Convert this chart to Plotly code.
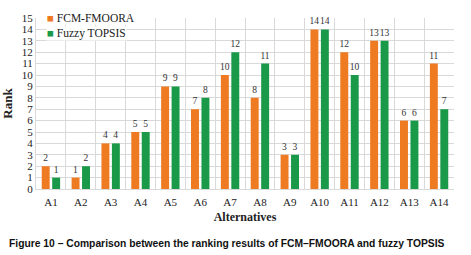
import plotly.graph_objects as go

categories = ["A1", "A2", "A3", "A4", "A5", "A6", "A7", "A8", "A9", "A10", "A11", "A12", "A13", "A14"]
fcm_fmoora = [2, 1, 4, 5, 9, 7, 10, 8, 3, 14, 12, 13, 6, 11]
fuzzy_topsis = [1, 2, 4, 5, 9, 8, 12, 11, 3, 14, 10, 13, 6, 7]
series_names = ["FCM-FMOORA", "Fuzzy TOPSIS"]
y_ticks = list(range(0, 16))

serif = "Liberation Serif, Times New Roman, serif"
orange = "#EE7A22"
green = "#1A9A48"
colors = [orange, green]

fig = go.Figure()
for name, vals, col in zip(series_names, [fcm_fmoora, fuzzy_topsis], colors):
    fig.add_trace(go.Bar(x=categories, y=vals, name=name, showlegend=False,
                         marker=dict(color=col, line=dict(width=0)),
                         text=vals, textposition="outside", constraintext="none",
                         textfont=dict(family=serif, size=9.5, color="#333"),
                         cliponaxis=False))

fig.update_layout(
    width=471, height=255,
    margin=dict(l=36, r=17, t=18, b=66, autoexpand=False),
    paper_bgcolor="white", plot_bgcolor="white",
    barmode="group", bargap=0.3, bargroupgap=0.24,
    showlegend=False,
    xaxis=dict(type="category", tickson="boundaries", showgrid=True,
               gridcolor="#D9D9D9", gridwidth=1, ticks="", ticklen=0,
               ticklabelstandoff=3,
               tickfont=dict(family=serif, size=11, color="#222"),
               title=dict(text="<b>Alternatives</b>", standoff=5,
                          font=dict(family=serif, size=12, color="#222")),
               showline=True, linecolor="#D9D9D9", automargin=False),
    yaxis=dict(range=[0, 15], tickvals=y_ticks, showgrid=True,
               gridcolor="#D9D9D9", gridwidth=1, zeroline=False,
               tickfont=dict(family=serif, size=11, color="#222"),
               title=dict(text="<b>Rank</b>", standoff=8,
                          font=dict(family=serif, size=13, color="#222")),
               showline=True, linecolor="#D9D9D9", automargin=False),
    font=dict(family=serif),
)

# legend drawn as text with coloured square glyphs
legend_y = [1.0, 0.912]
for name, col, ly in zip(series_names, colors, legend_y):
    fig.add_annotation(
        text=f"<span style='color:{col}'>■</span> {name}",
        xref="paper", yref="paper", x=0.024, y=ly, xanchor="left", yanchor="middle",
        showarrow=False, bgcolor="white", borderpad=0,
        font=dict(family=serif, size=11.5, color="#222"),
    )

fig.add_annotation(
    text="<b>Figure 10 – Comparison between the ranking results of FCM–FMOORA and fuzzy TOPSIS</b>",
    xref="paper", yref="paper", x=-0.07, y=-0.275, xanchor="left", yanchor="top",
    showarrow=False,
    font=dict(family="Liberation Sans, Arial, sans-serif", size=10.3, color="#111"),
)

fig.write_html("out.html", config={"displayModeBar": False},
               post_script="document.body.style.margin='0';")
